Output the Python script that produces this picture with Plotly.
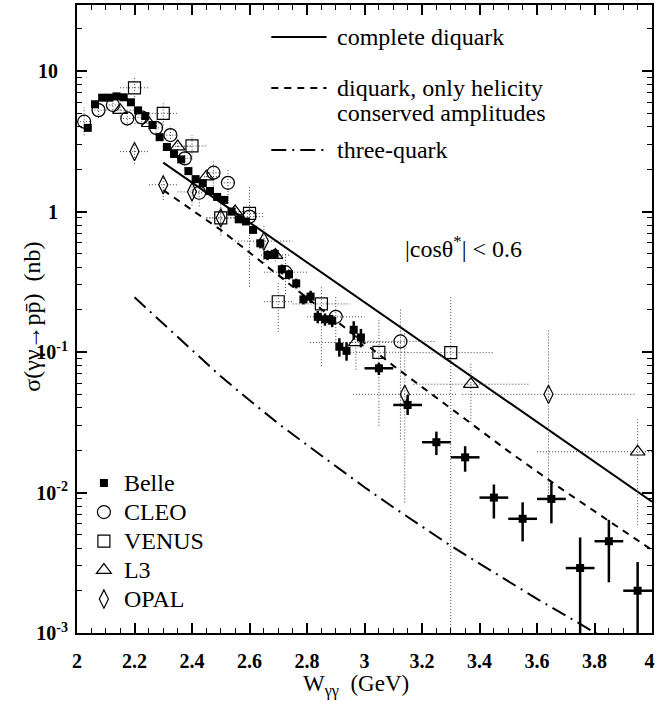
import plotly.graph_objects as go

# ---------------- data ----------------
# Belle (filled squares)
belle_w = [2.0375, 2.0625, 2.0875, 2.1125, 2.1375, 2.1625, 2.1875, 2.2125, 2.2375, 2.2625,
           2.2875, 2.3125, 2.3375, 2.3625, 2.3875, 2.4125, 2.4375, 2.4625, 2.4875, 2.5125,
           2.5375, 2.5625, 2.5875, 2.6125, 2.6375, 2.6625, 2.6875, 2.7125, 2.7375, 2.7625,
           2.7875, 2.8125, 2.8375, 2.8625, 2.8875, 2.9125, 2.9375, 2.9625, 2.9875,
           3.05, 3.15, 3.25, 3.35, 3.45, 3.55, 3.65, 3.75, 3.85, 3.95]
belle_sig = [3.94, 5.80, 6.46, 6.46, 6.60, 6.50, 5.99, 5.25, 4.78, 4.13,
             3.38, 2.88, 2.57, 2.35, 1.94, 1.70, 1.59, 1.40, 1.27, 1.21,
             1.00, 0.88, 0.85, 0.74, 0.594, 0.49, 0.50, 0.388, 0.357, 0.308,
             0.237, 0.248, 0.178, 0.171, 0.167, 0.109, 0.102, 0.144, 0.127,
             0.0766, 0.042, 0.0228, 0.0178, 0.0092, 0.0065, 0.0090, 0.0029, 0.0045, 0.0020]
belle_up = [0.04] * 24 + [0.08] * 7 + [0.10] * 4 + [0.15] * 4 + \
           [0.095, 0.176, 0.19, 0.20, 0.24, 0.31, 0.31, 0.65, 0.42, 0.60]
belle_dn = [0.04] * 24 + [0.08] * 7 + [0.10] * 4 + [0.15] * 4 + \
           [0.104, 0.152, 0.19, 0.21, 0.29, 0.31, 0.33, 0.80, 0.49, 0.80]
belle_dw = [0.0] * 39 + [0.05] * 10

# CLEO (open circles)
cleo_w = [2.025, 2.075, 2.125, 2.175, 2.225, 2.275, 2.325, 2.375, 2.425, 2.475, 2.525, 2.60, 2.725, 2.90, 3.125]
cleo_sig = [4.36, 5.27, 5.73, 4.60, 4.68, 3.94, 3.50, 2.39, 1.36, 1.89, 1.60, 0.92, 0.37, 0.178, 0.119]
cleo_dw = [0.025] * 11 + [0.05, 0.075, 0.10, 0.125]
cleo_up = [0.26, 0.12, 0.12, 0.12, 0.12, 0.12, 0.15, 0.15, 0.20, 0.20, 0.25, 0.20, 0.35, 0.40, 0.70]
cleo_dn = [0.20, 0.12, 0.12, 0.12, 0.12, 0.12, 0.15, 0.15, 0.20, 0.20, 0.22, 0.20, 0.30, 0.35, 0.80]

# VENUS (open squares)
venus_w = [2.20, 2.30, 2.40, 2.50, 2.60, 2.70, 2.85, 3.05, 3.30]
venus_sig = [7.6, 5.0, 2.93, 0.90, 0.97, 0.228, 0.22, 0.0995, 0.099]
venus_dw = [0.05, 0.05, 0.05, 0.05, 0.05, 0.05, 0.10, 0.10, 0.15]
venus_up = [0.20, 0.20, 0.20, 0.25, 0.55, 0.38, 0.34, 0.70, 1.50]
venus_dn = [0.18, 0.18, 0.20, 0.25, 0.70, 0.39, 0.64, 0.70, 0.995]

# L3 (open triangles)
l3_w = [2.15, 2.25, 2.35, 2.45, 2.55, 2.69, 2.97, 3.37, 3.95]
l3_sig = [5.27, 4.25, 2.90, 1.77, 1.00, 0.49, 0.117, 0.059, 0.0195]
l3_dw = [0.05, 0.05, 0.05, 0.05, 0.05, 0.05, 0.16, 0.20, 0.35]
l3_up = [0.10, 0.10, 0.10, 0.10, 0.10, 0.10, 0.30, 0.44, 0.70]
l3_dn = [0.10, 0.10, 0.10, 0.10, 0.10, 0.10, 0.36, 0.46, 0.70]

# OPAL (open diamonds)
opal_w = [2.20, 2.30, 2.40, 2.50, 2.65, 3.14, 3.64]
opal_sig = [2.67, 1.55, 1.38, 0.90, 0.616, 0.050, 0.050]
opal_dw = [0.05, 0.05, 0.05, 0.05, 0.10, 0.18, 0.30]
opal_up = [0.21, 0.20, 0.20, 0.20, 0.30, 1.87, 1.87]
opal_dn = [0.18, 0.22, 0.20, 0.20, 0.30, 0.83, 0.83]

# theory curves
diq_w = [2.3, 2.5, 2.7, 2.9, 3.1, 3.3, 3.5, 3.7, 3.9, 4.0]
diq_full = [2.23, 1.16, 0.60, 0.31, 0.163, 0.0845, 0.044, 0.0228, 0.0119, 0.0086]
diq_hel = [1.42, 0.74, 0.352, 0.168, 0.080, 0.0397, 0.0197, 0.0101, 0.00536, 0.0039]
tq_w = [2.2, 2.3, 2.4, 2.5, 2.6, 2.7, 2.8, 2.9, 3.0, 3.1, 3.2, 3.3, 3.4, 3.5, 3.6, 3.7, 3.8, 3.85]
tq_sig = [0.245, 0.159, 0.103, 0.0671, 0.0453, 0.031, 0.0218, 0.0154, 0.0109, 0.00785,
          0.00572, 0.00418, 0.00312, 0.00233, 0.00175, 0.00133, 0.00101, 0.00088]

x_ticks = [2.0, 2.2, 2.4, 2.6, 2.8, 3.0, 3.2, 3.4, 3.6, 3.8, 4.0]
x_labels = ["2", "2.2", "2.4", "2.6", "2.8", "3", "3.2", "3.4", "3.6", "3.8", "4\u00a0"]
y_ticks = [0.001, 0.01, 0.1, 1, 10]
y_labels = ["10<sup>-3</sup>", "10<sup>-2</sup>", "10<sup>-1</sup>", "1\u00a0\u00a0", "10\u00a0\u00a0"]

curve_names = ["complete diquark", "diquark, only helicity", "three-quark"]
curve_name_cont = "conserved amplitudes"
x_title = "W<sub>\u03b3\u03b3</sub>  (GeV)"
y_title = "\u03c3(\u03b3\u03b3\u2192pp\u0304)  (nb)"

FONT = "Liberation Serif"
SOLID = "solid"
DASH = "7px,6px"
DASHDOT = "15px,6px,2px,6px"

fig = go.Figure()

# theory lines
fig.add_trace(go.Scatter(x=diq_w, y=diq_full, mode="lines", name=curve_names[0], showlegend=False,
                         line=dict(color="black", width=2, dash=SOLID)))
fig.add_trace(go.Scatter(x=diq_w, y=diq_hel, mode="lines", name=curve_names[1], showlegend=False,
                         line=dict(color="black", width=2, dash=DASH)))
fig.add_trace(go.Scatter(x=tq_w, y=tq_sig, mode="lines", name=curve_names[2], showlegend=False,
                         line=dict(color="black", width=2, dash=DASHDOT)))


def dotted_bars(ws, sig, dw, up, dn):
    bx, by = [], []
    for w, s, e, u, d in zip(ws, sig, dw, up, dn):
        bx += [w - e, w + e, None, w, w, None]
        by += [s, s, None, s * (1 - d), s * (1 + u), None]
    return bx, by


for ws, sig, dw, up, dn in [(cleo_w, cleo_sig, cleo_dw, cleo_up, cleo_dn),
                            (venus_w, venus_sig, venus_dw, venus_up, venus_dn),
                            (l3_w, l3_sig, l3_dw, l3_up, l3_dn),
                            (opal_w, opal_sig, opal_dw, opal_up, opal_dn)]:
    bx, by = dotted_bars(ws, sig, dw, up, dn)
    fig.add_trace(go.Scatter(x=bx, y=by, mode="lines", showlegend=False, hoverinfo="skip",
                             line=dict(color="#444", width=1, dash="1px,2px")))


def lname(t):
    return "<span style='font-size:24px'>" + t + "</span>"


# Belle
fig.add_trace(go.Scatter(
    x=belle_w, y=belle_sig, mode="markers", name=lname("Belle"),
    marker=dict(symbol="square", size=8, color="black"),
    error_y=dict(type="data", symmetric=False,
                 array=[s * u for s, u in zip(belle_sig, belle_up)],
                 arrayminus=[s * d for s, d in zip(belle_sig, belle_dn)],
                 color="black", thickness=2.5, width=0),
    error_x=dict(type="data", array=belle_dw, color="black", thickness=2.5, width=0),
))
fig.add_trace(go.Scatter(x=cleo_w, y=cleo_sig, mode="markers", name=lname("CLEO"),
                         marker=dict(symbol="circle-open", size=13, color="black", line=dict(width=1.2))))
fig.add_trace(go.Scatter(x=venus_w, y=venus_sig, mode="markers", name=lname("VENUS"),
                         marker=dict(symbol="square-open", size=12, color="black", line=dict(width=1.2))))
fig.add_trace(go.Scatter(x=l3_w, y=l3_sig, mode="markers", name=lname("L3"),
                         marker=dict(symbol="triangle-up-open", size=13, color="black", line=dict(width=1.2))))
fig.add_trace(go.Scatter(x=opal_w, y=opal_sig, mode="markers", name=lname("OPAL"),
                         marker=dict(symbol="diamond-tall-open", size=13, color="black", line=dict(width=1.2))))

minor_y = [m * 10.0 ** k for k in range(-3, 2) for m in range(2, 10)] + [20]

# hand-made key for the theory curves (paper coordinates)
PLOT_L, PLOT_W, PLOT_T, PLOT_H = 77, 583, 5, 628


def px_x(px):
    return (px - PLOT_L) / PLOT_W


def px_y(py):
    return 1 - (py - PLOT_T) / PLOT_H


key_rows = [(37, SOLID, curve_names[0]), (88, DASH, curve_names[1]), (150, DASHDOT, curve_names[2])]
shapes, annots = [], []
for py, dsh, txt in key_rows:
    shapes.append(dict(type="line", xref="paper", yref="paper", x0=px_x(274), x1=px_x(330),
                       y0=px_y(py), y1=px_y(py), line=dict(color="black", width=2, dash=dsh)))
    annots.append(dict(text=txt, x=px_x(339), y=px_y(py), xref="paper", yref="paper",
                       xanchor="left", yanchor="middle", showarrow=False,
                       font=dict(family=FONT, size=24)))
annots.append(dict(text=curve_name_cont, x=px_x(339), y=px_y(113), xref="paper", yref="paper",
                   xanchor="left", yanchor="middle", showarrow=False, font=dict(family=FONT, size=24)))
annots.append(dict(text="|cos\u03b8<sup>*</sup>| < 0.6", x=px_x(530), y=px_y(247), xref="paper",
                   yref="paper", showarrow=False, font=dict(family=FONT, size=24)))
# axis titles
annots.append(dict(text=x_title, x=px_x(360), y=px_y(701), xref="paper", yref="paper",
                   xanchor="center", yanchor="bottom", showarrow=False, borderpad=0,
                   font=dict(family=FONT, size=23)))
annots.append(dict(text=y_title, x=px_x(31), y=px_y(317), xref="paper", yref="paper", textangle=-90,
                   xanchor="center", yanchor="middle", showarrow=False, font=dict(family=FONT, size=24)))

fig.update_layout(
    width=662, height=702,
    margin=dict(l=77, r=2, t=5, b=69),
    paper_bgcolor="white", plot_bgcolor="white",
    font=dict(family=FONT, color="black", size=22),
    showlegend=True,
    legend=dict(x=px_x(84), y=0.023, xanchor="left", yanchor="bottom",
                font=dict(family=FONT, size=20), bgcolor="rgba(0,0,0,0)",
                itemwidth=30, tracegroupgap=0),
    shapes=shapes,
    annotations=annots,
)

fig.update_xaxes(
    range=[2, 4], tickmode="array", tickvals=x_ticks, ticktext=x_labels,
    ticks="inside", ticklen=10, tickwidth=1.5, tickcolor="black",
    showline=True, linecolor="black", linewidth=2, mirror="allticks",
    showgrid=False, zeroline=False, ticklabelstandoff=9, ticklabeloverflow="allow",
    tickfont=dict(family=FONT, size=20, weight="bold"),
    minor=dict(tickmode="linear", tick0=2, dtick=0.05, ticks="inside", ticklen=5,
               tickwidth=1.2, tickcolor="black"),
)
fig.update_yaxes(
    type="log", range=[-3, 1.47], tickmode="array", tickvals=y_ticks, ticktext=y_labels,
    ticks="inside", ticklen=10, tickwidth=1.5, tickcolor="black",
    showline=True, linecolor="black", linewidth=2, mirror="allticks",
    showgrid=False, zeroline=False, ticklabelstandoff=3, ticklabeloverflow="allow",
    tickfont=dict(family=FONT, size=20, weight="bold"),
    minor=dict(tickmode="array", tickvals=minor_y, ticks="inside", ticklen=5,
               tickwidth=1.2, tickcolor="black"),
)

fig.write_html("out.html")
